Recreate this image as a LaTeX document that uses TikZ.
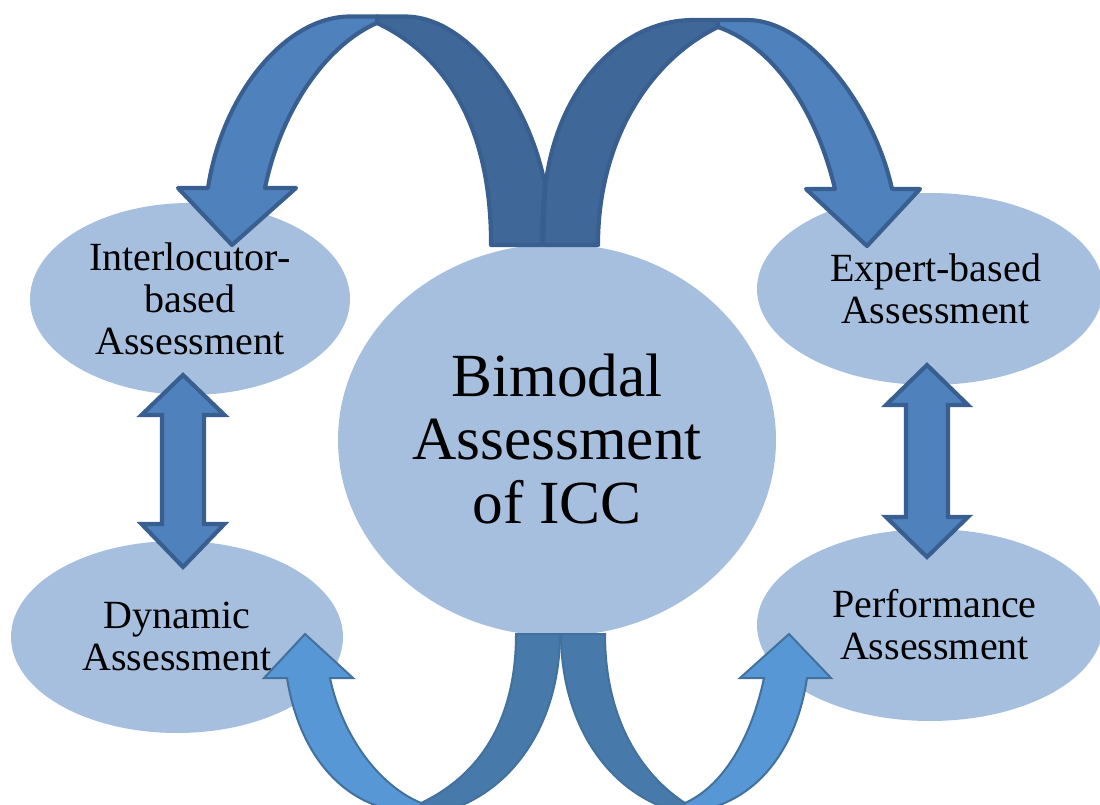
\documentclass[tikz,border=0pt]{standalone}
\usepackage{fontspec}
\setmainfont{Liberation Serif}
\definecolor{ell}{HTML}{A7BFDE}
\definecolor{topl}{HTML}{4F81BD}
\definecolor{topd}{HTML}{3F6797}
\definecolor{tops}{HTML}{385F8F}
\definecolor{botl}{HTML}{5897D5}
\definecolor{botd}{HTML}{477AAA}
\definecolor{bots}{HTML}{41719C}
\tikzset{
 topband/.style={line width=3.1pt,draw=tops,line join=round},
 dbl/.style={line width=3.1pt,draw=tops,fill=topl,line join=miter,miter limit=10},
 botband/.style={line width=1.5pt,draw=bots,line join=miter},
 small/.style={font=\fontsize{30pt}{31.5pt}\selectfont,align=center,text=black,inner sep=0pt},
 big/.style={font=\fontsize{46pt}{47.3pt}\selectfont,align=center,text=black,inner sep=0pt}
}
\begin{document}
\begin{tikzpicture}[x=0.75pt,y=-0.75pt]
\useasboundingbox (0,0) rectangle (1100,805);
\clip (0,0) rectangle (1100,805);
\fill[ell] (557,440) ellipse [x radius=219,y radius=196];
\fill[ell] (190,299) ellipse [x radius=160,y radius=96];
\fill[ell] (177,637) ellipse [x radius=166,y radius=96];
\fill[ell] (930,289) ellipse [x radius=173,y radius=96];
\fill[ell] (930,625) ellipse [x radius=173,y radius=96];
% top-left dark band
\draw[topband,fill=topd] (491,245) -- (491,240) .. controls (490,125) and (445,55) .. (377,23) -- (377,16.5) -- (405,16.5) .. controls (470,16.5) and (530,105) .. (545,185) .. controls (543,205) and (542,225) .. (542,245) -- cycle;
% top-left light arrow
\draw[topband,fill=topl] (377,23) .. controls (330,43) and (282,105) .. (265,188) -- (296,188) -- (232,245) -- (178,188) -- (208,188) .. controls (222,95) and (285,16.5) .. (350,16.5) -- (377,16.5) -- cycle;
% top-right dark band
\draw[topband,fill=topd] (598,245) .. controls (598,140) and (650,60) .. (718,27) -- (718,20) -- (693,20) .. controls (620,20) and (555,90) .. (545,190) -- (543,245) -- cycle;
% top-right light arrow
\draw[topband,fill=topl] (718,27) .. controls (770,45) and (815,105) .. (835,189) -- (806,189) -- (867,246) -- (920,189) -- (892,189) .. controls (875,110) and (810,20) .. (747,20) -- (718,20) -- cycle;
% bottom-left dark band
\draw[botband,fill=botd] (516,634) .. controls (516,720) and (480,775) .. (421,803) -- (430,815) .. controls (510,800) and (560,725) .. (560,634) -- cycle;
% bottom-left light arrow
\draw[botband,fill=botl] (421,803) .. controls (378,785) and (342,735) .. (330,678) -- (353,678) -- (305,634) -- (264,678) -- (287,678) .. controls (300,760) and (350,815) .. (421,812) -- cycle;
% bottom-right dark band
\draw[botband,fill=botd] (605,634) .. controls (605,720) and (642,775) .. (685,803) -- (690,815) .. controls (610,800) and (561,725) .. (561,634) -- cycle;
% bottom-right light arrow
\draw[botband,fill=botl] (685,803) .. controls (725,785) and (752,735) .. (764,678) -- (740,678) -- (789,634) -- (831,678) -- (807,678) .. controls (795,760) and (745,812) .. (680,812) -- cycle;
% vertical double arrows
\draw[dbl] (183,375) -- (224.5,415) -- (204,415) -- (204,524) -- (224.5,524) -- (183,567) -- (141.5,524) -- (162,524) -- (162,415) -- (141.5,415) -- cycle;
\draw[dbl] (927,365) -- (968,405) -- (948,405) -- (948,517) -- (968,517) -- (927,557) -- (886,517) -- (906,517) -- (906,405) -- (886,405) -- cycle;
\node[big] (centre) at (557,439) {Bimodal\\Assessment\\of ICC};
\node[small] (inter) at (190,299) {Interlocutor-\\based\\Assessment};
\node[small] (dyn) at (177,636) {Dynamic\\Assessment};
\node[small] (exp) at (935.5,289) {Expert-based\\Assessment};
\node[small] (perf) at (934.5,625) {Performance\\Assessment};
\end{tikzpicture}
\end{document}
